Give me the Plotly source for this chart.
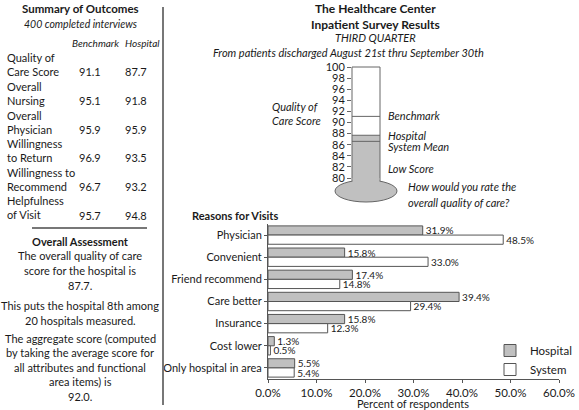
import plotly.graph_objects as go

# ---------------- data ----------------
reasons = ["Physician", "Convenient", "Friend recommend", "Care better",
           "Insurance", "Cost lower", "Only hospital in area"]
hospital_pct = [31.9, 15.8, 17.4, 39.4, 15.8, 1.3, 5.5]
system_pct = [48.5, 33.0, 14.8, 29.4, 12.3, 0.5, 5.4]

measures = ["Quality of<br>Care Score", "Overall<br>Nursing", "Overall<br>Physician",
            "Willingness<br>to Return", "Willingness to<br>Recommend", "Helpfulness<br>of Visit"]
benchmark_scores = [91.1, 95.1, 95.9, 96.9, 96.7, 95.7]
hospital_scores = [87.7, 91.8, 95.9, 93.5, 93.2, 94.8]

thermo_benchmark = 91.1
thermo_hospital = 87.7
thermo_system_mean = 86.6
thermo_ticks = list(range(80, 101, 2))

W, H = 579, 410
FONT = "Lato"
TXT = "#1a1a1a"
GRAY = "#c0c0c0"
EDGE = "#666666"


def px(x):
    return x / W


def py(y):
    return 1 - y / H


fig = go.Figure()

# ---------------- bar chart ----------------
fig.add_trace(go.Bar(
    y=reasons, x=hospital_pct, orientation="h", name="Hospital",
    marker=dict(color=GRAY, line=dict(color="#555555", width=1)),
    text=[f"{v:.1f}%" for v in hospital_pct], textposition="outside",
    textfont=dict(size=10, color=TXT), constraintext="none", cliponaxis=False,
))
fig.add_trace(go.Bar(
    y=reasons, x=system_pct, orientation="h", name="System",
    marker=dict(color="white", line=dict(color="#555555", width=1)),
    text=[f"{v:.1f}%" for v in system_pct], textposition="outside",
    textfont=dict(size=10, color=TXT), constraintext="none", cliponaxis=False,
))

# ---------------- thermometer fill (data) ----------------
fig.add_trace(go.Bar(
    x=[0.5], y=[thermo_hospital - thermo_ticks[0]], base=thermo_ticks[0], width=1,
    xaxis="x2", yaxis="y2", marker=dict(color=GRAY, line=dict(width=0)),
    showlegend=False, hoverinfo="skip",
))

shapes = []
# bulb
shapes.append(dict(type="circle", xref="paper", yref="paper",
                   x0=px(335), x1=px(397), y0=py(202), y1=py(180),
                   fillcolor=GRAY, line=dict(color=EDGE, width=1)))
# fill connecting tube to bulb
shapes.append(dict(type="rect", xref="paper", yref="paper",
                   x0=px(352.5), x1=px(379.5), y0=py(186), y1=py(177.5),
                   fillcolor=GRAY, line=dict(width=0)))
# tube outline
shapes.append(dict(type="path", xref="paper", yref="paper",
                   path=f"M {px(352)},{py(181)} L {px(352)},{py(67)} L {px(380)},{py(67)} L {px(380)},{py(181)}",
                   line=dict(color=EDGE, width=1)))
# level lines
for lvl in (thermo_benchmark, thermo_hospital, thermo_system_mean):
    shapes.append(dict(type="line", xref="x2 domain", yref="y2", x0=0, x1=1,
                       y0=lvl, y1=lvl, line=dict(color=EDGE, width=1)))
# left panel separators
shapes.append(dict(type="line", xref="paper", yref="paper",
                   x0=px(163), x1=px(163), y0=py(7), y1=py(405),
                   line=dict(color="#777777", width=2)))
shapes.append(dict(type="line", xref="paper", yref="paper",
                   x0=px(32), x1=px(147), y0=py(228), y1=py(228),
                   line=dict(color="#777777", width=2)))

ann = []


def text(x, y, s, size=11, bold=False, italic=False, anchor="center"):
    if bold:
        s = f"<b>{s}</b>"
    if italic:
        s = f"<i>{s}</i>"
    ann.append(dict(x=px(x), y=py(y), xref="paper", yref="paper", text=s,
                    showarrow=False, xanchor=anchor, yanchor="middle",
                    font=dict(family=FONT, size=size, color=TXT)))


# header (right)
text(375, 8, "The Healthcare Center", 12, bold=True)
text(375, 24, "Inpatient Survey Results", 12, bold=True)
text(375, 38, "THIRD QUARTER", 11, italic=True)
text(348, 52, "From patients discharged August 21st thru September 30th", 11, italic=True)

# thermometer labels
ann.append(dict(x=px(270), y=py(113), xref="paper", yref="paper",
                text="<i>Quality of<br>Care Score</i>", showarrow=False,
                xanchor="left", yanchor="middle", align="left",
                font=dict(family=FONT, size=11, color=TXT)))
text(386, 115, "Benchmark", 11, italic=True, anchor="left")
text(386, 135, "Hospital", 11, italic=True, anchor="left")
text(386, 146, "System Mean", 11, italic=True, anchor="left")
text(386, 169, "Low Score", 11, italic=True, anchor="left")
text(406, 187, "How would you rate the", 11, italic=True, anchor="left")
text(406, 202, "overall quality of care?", 11, italic=True, anchor="left")

# bar chart title and x-axis title
text(190, 215, "Reasons for Visits", 11, bold=True, anchor="left")
text(413, 403, "Percent of respondents", 11)

# left panel
text(80, 8, "Summary of Outcomes", 11.5, bold=True)
text(80, 24, "400 completed interviews", 10.5, italic=True)
text(95, 43, "Benchmark", 10, italic=True)
text(142, 43, "Hospital", 10, italic=True)
for i, (m, b, h) in enumerate(zip(measures, benchmark_scores, hospital_scores)):
    y2 = 72 + 28.6 * i
    ann.append(dict(x=px(5), y=py(y2 - 7.2), xref="paper", yref="paper", text=m,
                    showarrow=False, xanchor="left", yanchor="middle", align="left",
                    font=dict(family=FONT, size=11, color=TXT)))
    text(90, y2, f"{b:.1f}", 11)
    text(136, y2, f"{h:.1f}", 11)

text(80, 241, "Overall Assessment", 11, bold=True)
assessment = ["The overall quality of care", "score for the hospital is",
              f"{hospital_scores[0]:.1f}."]
for j, s in enumerate(assessment):
    text(80, 255 + 15 * j, s, 11)
rank = ["This puts the hospital 8th among", "20 hospitals measured."]
for j, s in enumerate(rank):
    text(80, 305 + 15 * j, s, 11)
agg = ["The aggregate score (computed", "by taking the average score for",
       "all attributes and functional", "area items) is", "92.0."]
for j, s in enumerate(agg):
    text(80, 338 + 14.5 * j, s, 11)

fig.update_layout(
    width=W, height=H, margin=dict(l=0, r=0, t=0, b=0, autoexpand=False),
    paper_bgcolor="white", plot_bgcolor="rgba(0,0,0,0)",
    font=dict(family=FONT, size=11, color=TXT),
    barmode="group", bargap=0.17, bargroupgap=0,
    showlegend=True,
    legend=dict(x=px(577), y=py(336), xanchor="right", yanchor="top",
                bgcolor="rgba(0,0,0,0)", font=dict(size=11.5), tracegroupgap=0,
                itemwidth=30),
    xaxis=dict(domain=[px(268), px(559)], range=[0, 60], dtick=10,
               tickformat=".1f", ticksuffix="%", showgrid=False, zeroline=False,
               showline=True, linecolor="#555555", ticks="outside", ticklen=3,
               tickcolor="#555555", tickfont=dict(size=11.5), automargin=False),
    yaxis=dict(domain=[py(379), py(224)], autorange="reversed", showgrid=False,
               showline=True, linecolor="#555555", ticks="outside", ticklen=3,
               tickcolor="#555555", tickfont=dict(size=11), automargin=False),
    xaxis2=dict(domain=[px(352), px(380)], range=[0, 1], anchor="y2", visible=False),
    yaxis2=dict(domain=[py(178), py(67)], range=[80, 100], anchor="x2",
                tickvals=thermo_ticks, ticks="outside", ticklen=4, tickcolor=EDGE,
                showgrid=False, zeroline=False, showline=False,
                tickfont=dict(size=11), automargin=False),
    shapes=shapes, annotations=ann,
)

fig.write_html("out.html", config={"displayModeBar": False},
               post_script="document.body.style.margin='0';")
